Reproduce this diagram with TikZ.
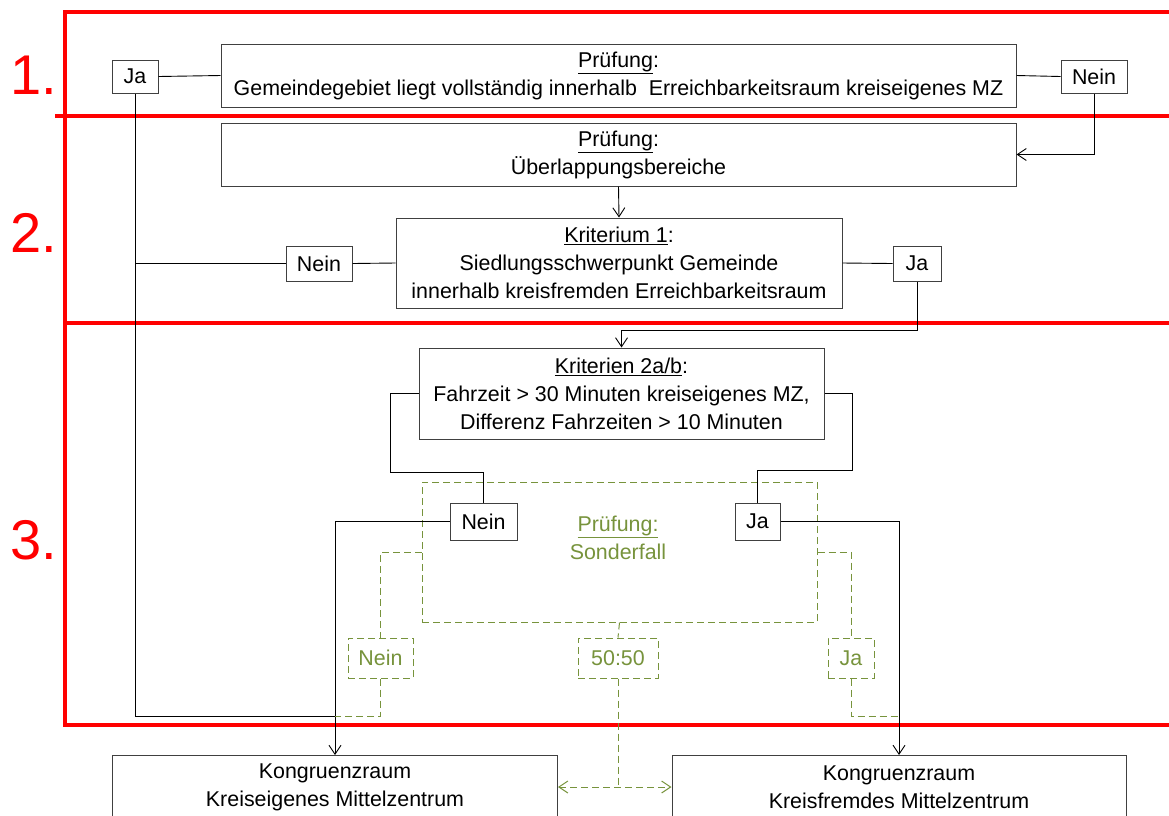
\documentclass[tikz,border=0pt]{standalone}
\usepackage{fontspec}
\setmainfont{Liberation Sans}
\usetikzlibrary{arrows.meta}
\definecolor{boxgray}{RGB}{64,64,64}
\definecolor{olivegreen}{RGB}{119,147,60}
\begin{document}
\begin{tikzpicture}[x=1pt,y=-1pt,
  every node/.style={font=\fontsize{21.4}{28}\selectfont},
  box/.style={draw=boxgray, line width=1pt, fill=white, align=center, inner sep=0pt},
  gbox/.style={draw=olivegreen, line width=1pt, dash pattern=on 7pt off 4pt, fill=white, text=olivegreen, align=center, inner sep=0pt},
  conn/.style={draw=black, line width=0.9pt},
  arr/.style={conn, -{Straight Barb[length=9pt,width=12pt]}},
  gconn/.style={draw=olivegreen, line width=1pt, dash pattern=on 7pt off 4pt},
  garr/.style={gconn, {Straight Barb[length=9pt,width=12pt]}-{Straight Barb[length=9pt,width=12pt]}},
  redline/.style={draw=red, line width=4pt},
  num/.style={text=red, font=\fontsize{56}{60}\selectfont, inner sep=0pt}
]
\useasboundingbox (0,0) rectangle (1169,815);
\clip (0,0) rectangle (1169,815);

% red frame
\draw[redline] (1175,12) -- (65,12) -- (65,725);
\draw[redline] (55,116) -- (1175,116);
\draw[redline] (65,323) -- (1175,323);
\draw[redline] (63,725) -- (1175,725);
\node[num] (n1) at (34,75) {1.};
\node[num] (n2) at (34,233) {2.};
\node[num] (n3) at (34,540) {3.};

% green dashed Sonderfall box
\node[gbox, fill=none, minimum width=395pt, minimum height=140pt] (sf) at (619.5,552) {};
\node[text=olivegreen, align=center] (sft) at (618,538) {\underline{Prüfung:}\\Sonderfall};

% boxes
\node[box, minimum width=795pt, minimum height=63pt] (b1) at (618.5,75.5)
  {\underline{Prüfung}:\\Gemeindegebiet liegt vollständig innerhalb\ \ Erreichbarkeitsraum kreiseigenes MZ};
\node[box, minimum width=46pt, minimum height=33pt] (ja1) at (135,76.5) {Ja};
\node[box, minimum width=66pt, minimum height=33pt] (nein1) at (1094,76.5) {Nein};
\node[box, minimum width=795pt, minimum height=63pt] (b2) at (618.5,154.5)
  {\underline{Prüfung}:\\Überlappungsbereiche};
\node[box, minimum width=446pt, minimum height=90pt] (k1) at (619,263)
  {\underline{Kriterium 1}:\\Siedlungsschwerpunkt Gemeinde\\innerhalb kreisfremden Erreichbarkeitsraum};
\node[box, minimum width=66pt, minimum height=35pt] (nein2) at (319,263.5) {Nein};
\node[box, minimum width=48pt, minimum height=35pt] (ja2) at (917,263.5) {Ja};
\node[box, minimum width=405pt, minimum height=91pt] (krit) at (621.5,393.5)
  {\underline{Kriterien 2a/b}:\\Fahrzeit > 30 Minuten kreiseigenes MZ,\\Differenz Fahrzeiten > 10 Minuten};
\node[box, minimum width=67pt, minimum height=37pt] (nein3) at (483.5,521.5) {Nein};
\node[box, minimum width=45pt, minimum height=37pt] (ja3) at (757.5,521.5) {Ja};
\node[gbox, minimum width=65pt, minimum height=40pt] (nein4) at (380.5,658) {Nein};
\node[gbox, minimum width=80pt, minimum height=40pt] (fifty) at (618,658) {50:50};
\node[gbox, minimum width=46pt, minimum height=40pt] (ja4) at (851,658) {Ja};
\node[box, minimum width=445pt, minimum height=63pt] (kl) at (335,787)
  {Kongruenzraum\\Kreiseigenes Mittelzentrum};
\node[box, minimum width=454pt, minimum height=63pt] (kr) at (899,787)
  {Kongruenzraum\\Kreisfremdes Mittelzentrum};

% coordinates
\coordinate (jl) at (335,716);
\coordinate (jr) at (899,716);
\coordinate (j2turn) at (917,330);
\coordinate (kn1) at (390,472);
\coordinate (kj1) at (852,470);
\coordinate (c50) at (618,787);

% black connectors
\draw[conn] (ja1.east) -- (b1.west);
\draw[conn] (b1.east) -- (nein1.west);
\draw[arr] (nein1.south) |- (b2.east);
\draw[arr] (b2.south) -- (k1.north);
\draw[conn] (nein2.east) -- (k1.west);
\draw[conn] (nein2.west) -- (ja1.south |- nein2.west);
\draw[conn] (k1.east) -- (ja2.west);
\draw[arr] (ja2.south) -- (j2turn) -| (krit.north);
\draw[conn] (ja1.south) |- (jl);
\draw[conn] (krit.west) -| (kn1) -| (nein3.north);
\draw[conn] (krit.east) -| (kj1) -| (ja3.north);
\draw[arr] (nein3.west) -| (kl.north);
\draw[arr] (ja3.east) -| (kr.north);

% green connectors
\draw[gconn] (sf.west) -| (nein4.north);
\draw[gconn] (nein4.south) |- (jl);
\draw[gconn] (sf.east) -| (ja4.north);
\draw[gconn] (ja4.south) |- (jr);
\draw[gconn] (sf.south) -- (fifty.north);
\draw[gconn] (fifty.south) -- (c50);
\draw[garr] (kl.east) -- (kr.west);
\end{tikzpicture}
\end{document}
